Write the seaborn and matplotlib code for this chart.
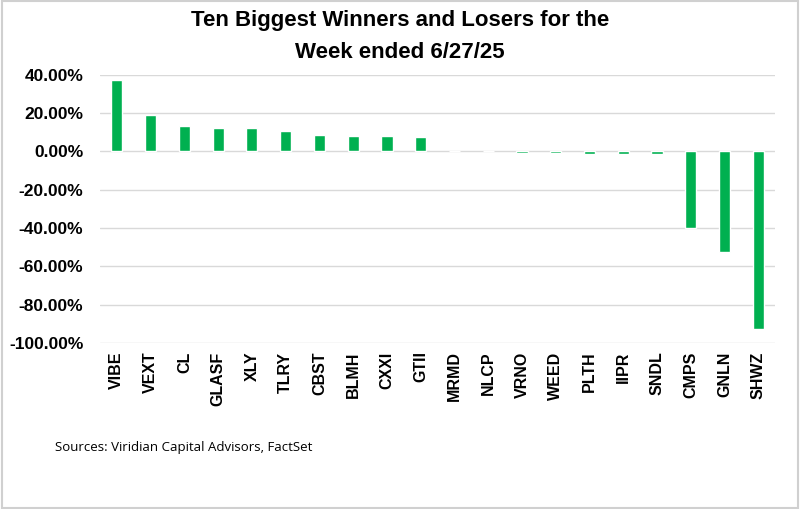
import matplotlib
matplotlib.use("Agg")
import matplotlib.pyplot as plt
import matplotlib.ticker as mticker
import seaborn as sns
import pandas as pd

tickers = ["VIBE", "VEXT", "CL", "GLASF", "XLY", "TLRY", "CBST", "BLMH", "CXXI", "GTII",
           "MRMD", "NLCP", "VRNO", "WEED", "PLTH", "IIPR", "SNDL", "CMPS", "GNLN", "SHWZ"]
returns = [37.1, 18.8, 13.3, 12.2, 12.2, 10.9, 8.8, 8.1, 8.1, 7.8,
           0.0, 0.0, -0.8, -0.8, -1.2, -1.2, -1.2, -40.0, -52.6, -92.5]
y_ticks = [40, 20, 0, -20, -40, -60, -80, -100]

df = pd.DataFrame({"ticker": tickers, "ret": returns})

sns.set_theme(style="white")
plt.rcParams["font.family"] = ["Liberation Sans", "DejaVu Sans"]
plt.rcParams["text.color"] = "black"

fig = plt.figure(figsize=(8, 5.09), dpi=100)
ax = fig.add_axes([0.125, 0.326, 0.844, 0.527])

sns.barplot(data=df, x="ticker", y="ret", color="#00B050", saturation=1,
            width=0.33, ax=ax, zorder=3)

ax.set_ylim(-100, 40)
ax.set_xlim(-0.5, len(tickers) - 0.5)
ax.set_yticks(y_ticks)
ax.yaxis.set_major_formatter(mticker.FuncFormatter(lambda v, p: f"{v:.2f}%"))
ax.grid(axis="y", color="#D9D9D9", linewidth=1, zorder=0)
ax.grid(axis="x", visible=False)
for s in ["top", "right", "left", "bottom"]:
    ax.spines[s].set_visible(False)
ax.set_xlabel("")
ax.set_ylabel("")
ax.tick_params(axis="y", length=0, pad=12, labelsize=12.5)
ax.tick_params(axis="x", length=0, pad=6, labelsize=11.5, rotation=90)
for lbl in ax.get_yticklabels() + ax.get_xticklabels():
    lbl.set_fontweight("bold")
    lbl.set_color("#000000")

fig.text(0.5, 0.96, "Ten Biggest Winners and Losers for the", ha="center", va="center",
         fontsize=16, fontweight="bold")
fig.text(0.5, 0.897, "Week ended 6/27/25", ha="center", va="center",
         fontsize=16, fontweight="bold")
fig.text(0.069, 0.12, "Sources: Viridian Capital Advisors, FactSet", ha="left", va="center",
         fontsize=9.5, family=["Open Sans", "DejaVu Sans"])

border = plt.Rectangle((0.002, 0.002), 0.996, 0.996, transform=fig.transFigure,
                       fill=False, edgecolor="#D0D0D0", linewidth=1.5)
fig.patches.append(border)

fig.savefig("out.png", dpi=100)
